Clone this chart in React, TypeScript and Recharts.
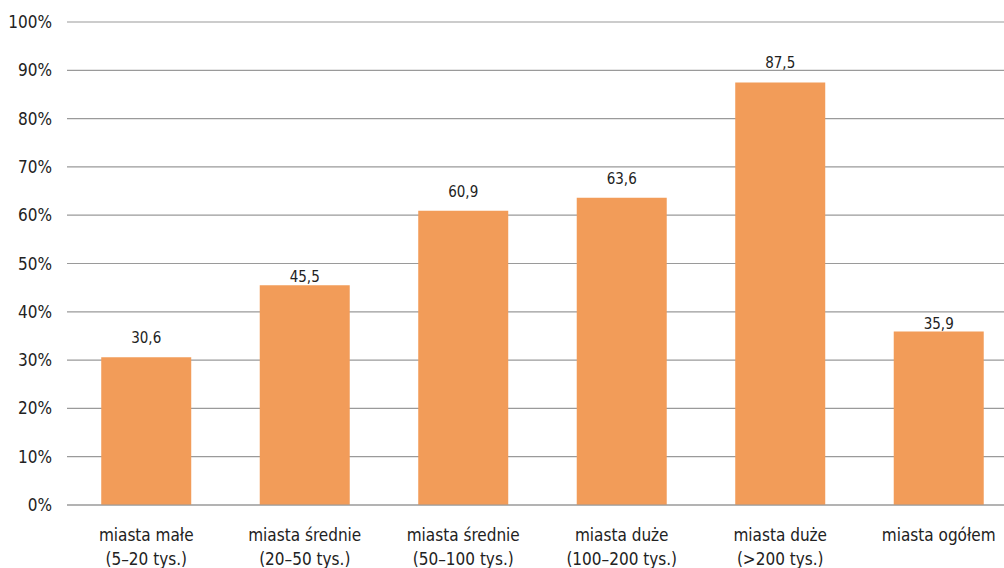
import { BarChart, Bar, XAxis, YAxis, CartesianGrid, LabelList } from "recharts";

const categories = [
  "miasta małe\n(5–20 tys.)",
  "miasta średnie\n(20–50 tys.)",
  "miasta średnie\n(50–100 tys.)",
  "miasta duże\n(100–200 tys.)",
  "miasta duże\n(>200 tys.)",
  "miasta ogółem",
];
const shares = [30.6, 45.5, 60.9, 63.6, 87.5, 35.9];
const yTicks = [0, 10, 20, 30, 40, 50, 60, 70, 80, 90, 100];

const data = categories.map((name, i) => ({ name, value: shares[i] }));

const FONT = "'DejaVu Sans Condensed', sans-serif";
const GRID = "#9a9a9a";
const TEXT = "#222";
const LABEL_SIZE = 15;

function CategoryTick(props: any) {
  const { x, y, payload } = props;
  const lines = String(payload.value).split("\n");
  return (
    <text x={x} y={y} textAnchor="middle" fill={TEXT} fontSize={17} fontFamily={FONT}>
      {lines.map((line, i) => (
        <tspan key={i} x={x} dy={i === 0 ? 28 : 24}>
          {line}
        </tspan>
      ))}
    </text>
  );
}

// value label above the bar; drops down onto the bar top when it would sit on a gridline
function ValueLabel(props: any) {
  const { x, y, width, height, value } = props;
  const perUnit = height / value;
  const gap = 14;
  const textH = 13;
  const lo = value + gap / perUnit;
  const hi = value + (gap + textH) / perUnit;
  const hitsGrid = yTicks.some((t) => t >= lo && t <= hi);
  const baseline = y - (hitsGrid ? 3 : gap);
  return (
    <text
      x={x + width / 2}
      y={baseline}
      textAnchor="middle"
      fill={TEXT}
      fontSize={LABEL_SIZE}
      fontFamily={FONT}
    >
      {Number(value).toFixed(1).replace(".", ",")}
    </text>
  );
}

export default function App() {
  return (
    <div
      style={{
        position: "fixed",
        left: 0,
        top: 0,
        width: 1004,
        height: 568,
        overflow: "hidden",
        background: "#fff",
      }}
    >
      <BarChart
        width={1018}
        height={568}
        data={data}
        margin={{ top: 22, right: 0, left: 0, bottom: 0 }}
        barCategoryGap="21.6%"
      >
        <CartesianGrid vertical={false} stroke={GRID} strokeWidth={1.2} />
        <XAxis
          dataKey="name"
          height={63}
          axisLine={{ stroke: GRID, strokeWidth: 1.2 }}
          tickLine={false}
          interval={0}
          tick={<CategoryTick />}
        />
        <YAxis
          width={67}
          domain={[0, 100]}
          ticks={yTicks}
          axisLine={false}
          tickLine={false}
          tickSize={0}
          tickMargin={15}
          tickFormatter={(v: number) => `${v}%`}
          tick={{ fontSize: 17, fill: TEXT, fontFamily: FONT }}
        />
        <Bar dataKey="value" fill="#F29C59" isAnimationActive={false}>
          <LabelList dataKey="value" content={<ValueLabel />} />
        </Bar>
      </BarChart>
    </div>
  );
}
